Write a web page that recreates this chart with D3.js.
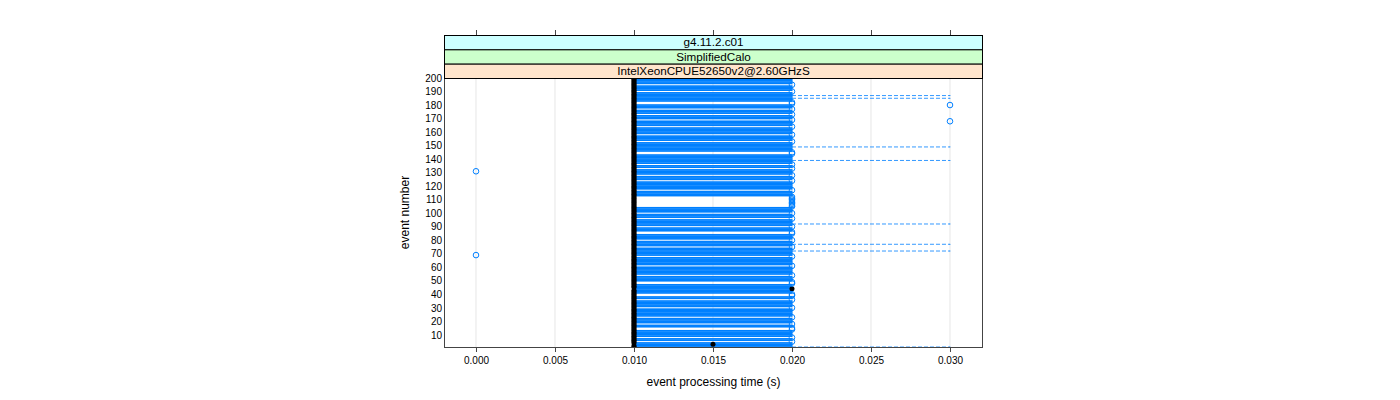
<!DOCTYPE html>
<html>
<head>
<meta charset="utf-8">
<script src="https://cdn.jsdelivr.net/npm/d3@7"></script>
<style>
  html, body { margin: 0; padding: 0; background: #fff; }
  svg { display: block; font-family: "Liberation Sans", Arial, sans-serif; }
</style>
</head>
<body>
<div id="chart"></div>
<script>
/* --- data ------------------------------------------------------------------ */
const stripLabels = ["g4.11.2.c01", "SimplifiedCalo", "IntelXeonCPUE52650v2@2.60GHzS"];
const stripColors = ["#ccffff", "#ccffcc", "#ffe5cc"];

const eventNumbers = d3.range(1, 201);           // y categories 1..200
const hingeLow  = 0.010;                          // lower hinge for most events
const hingeHigh = 0.020;                          // upper hinge for most events

// events where every repetition took 0.010 s (box collapses, 0.020 is an outlier)
const flatEvents = [5, 8, 14, 15, 18, 23, 30, 36, 39, 40, 48, 49, 54, 61, 68, 75, 80, 85,
  86, 90, 96, 100, 105, 106, 107, 108, 109, 110, 111, 112, 117, 124, 128, 133, 136,
  144, 145, 153, 158, 164, 169, 173, 177, 181, 182, 190, 195];
// events whose upper whisker reaches 0.030 s
const longWhiskerEvents = [1, 72, 77, 92, 139, 149, 185, 187];
// other medians
const medianOverrides = [{ event: 3, median: 0.015 }, { event: 44, median: 0.020 }];
// extra outliers
const extraOutliers = [
  { event: 69, time: 0.000 }, { event: 131, time: 0.000 },
  { event: 168, time: 0.030 }, { event: 180, time: 0.030 }
];
const xTicks = [0.000, 0.005, 0.010, 0.015, 0.020, 0.025, 0.030];
const yTicks = [10, 20, 30, 40, 50, 60, 70, 80, 90, 100, 110, 120, 130, 140, 150, 160, 170, 180, 190, 200];

/* --- per-event stats ------------------------------------------------------- */
const flatSet = new Set(flatEvents);
const whiskSet = new Set(longWhiskerEvents);
const medMap = new Map(medianOverrides.map(d => [d.event, d.median]));

const stats = eventNumbers.map(e => {
  const flat = flatSet.has(e);
  return {
    event: e,
    q1: hingeLow,
    q3: flat ? hingeLow : hingeHigh,
    med: medMap.has(e) ? medMap.get(e) : hingeLow,
    hi: whiskSet.has(e) ? 0.030 : (flat ? hingeLow : hingeHigh),
    out: flat ? [hingeHigh] : []
  };
});
extraOutliers.forEach(o => stats[o.event - 1].out.push(o.time));

/* --- layout ---------------------------------------------------------------- */
const W = 1400, H = 400;
const panel = { left: 444, right: 983, top: 78, bottom: 347 };
const stripTop = 35, stripH = (panel.top - stripTop) / stripLabels.length;

const x = d3.scaleLinear().domain([-0.002025, 0.032089]).range([panel.left, panel.right]);
const y = d3.scaleLinear().domain([1, 200]).range([panel.bottom, panel.top]);
const rowH = Math.abs(y(2) - y(1));
const boxH = rowH * 0.5;

const svg = d3.select("#chart").append("svg")
  .attr("width", W)
  .attr("height", H);

svg.append("defs").append("clipPath").attr("id", "pclip")
  .append("rect")
    .attr("x", panel.left).attr("y", panel.top)
    .attr("width", panel.right - panel.left).attr("height", panel.bottom - panel.top);

/* --- grid ------------------------------------------------------------------ */
const plot = svg.append("g").attr("clip-path", "url(#pclip)");
plot.selectAll("line.grid")
  .data(xTicks)
  .join("line")
    .attr("class", "grid")
    .attr("x1", d => x(d)).attr("x2", d => x(d))
    .attr("y1", panel.top).attr("y2", panel.bottom)
    .attr("stroke", "#e6e6e6")
    .attr("stroke-width", 1);

/* --- whiskers -------------------------------------------------------------- */
const blue = "#0080ff";
const whisk = stats.filter(d => d.hi > d.q3);
plot.selectAll("line.whisk")
  .data(whisk)
  .join("line")
    .attr("class", "whisk")
    .attr("x1", d => x(d.q3)).attr("x2", d => x(d.hi))
    .attr("y1", d => y(d.event)).attr("y2", d => y(d.event))
    .attr("stroke", blue)
    .attr("stroke-opacity", 0.8)
    .attr("stroke-width", 1)
    .attr("stroke-dasharray", "4,2");
plot.selectAll("line.cap")
  .data(whisk)
  .join("line")
    .attr("class", "cap")
    .attr("x1", d => x(d.hi)).attr("x2", d => x(d.hi))
    .attr("y1", d => y(d.event) - boxH / 2).attr("y2", d => y(d.event) + boxH / 2)
    .attr("stroke", blue)
    .attr("stroke-width", 1);

/* --- boxes ----------------------------------------------------------------- */
plot.selectAll("rect.box")
  .data(stats)
  .join("rect")
    .attr("class", "box")
    .attr("x", d => x(d.q1))
    .attr("width", d => x(d.q3) - x(d.q1))
    .attr("y", d => y(d.event) - boxH / 2)
    .attr("height", boxH)
    .attr("fill", "none")
    .attr("stroke", blue)
    .attr("stroke-width", 1);

/* --- medians --------------------------------------------------------------- */
plot.selectAll("circle.med")
  .data(stats)
  .join("circle")
    .attr("class", "med")
    .attr("cx", d => x(d.med))
    .attr("cy", d => y(d.event))
    .attr("r", 2.5)
    .attr("fill", "#000");

/* --- outliers -------------------------------------------------------------- */
const outs = stats.flatMap(d => d.out.map(t => ({ event: d.event, time: t })));
plot.selectAll("circle.out")
  .data(outs)
  .join("circle")
    .attr("class", "out")
    .attr("cx", d => x(d.time))
    .attr("cy", d => y(d.event))
    .attr("r", 2.8)
    .attr("fill", "none")
    .attr("stroke", blue)
    .attr("stroke-width", 1);

/* --- panel border ---------------------------------------------------------- */
svg.append("rect")
  .attr("x", panel.left + 0.5).attr("y", panel.top + 0.5)
  .attr("width", panel.right - panel.left - 1).attr("height", panel.bottom - panel.top)
  .attr("fill", "none")
  .attr("stroke", "#444");

/* --- strips ---------------------------------------------------------------- */
stripLabels.forEach((lab, i) => {
  const sy = stripTop + i * stripH;
  svg.append("rect")
    .attr("x", panel.left + 0.5).attr("y", sy + 0.5)
    .attr("width", panel.right - panel.left - 1).attr("height", stripH)
    .attr("fill", stripColors[i])
    .attr("stroke", "#000");
  svg.append("text")
    .attr("x", (panel.left + panel.right) / 2)
    .attr("y", sy + stripH / 2 + 4)
    .attr("text-anchor", "middle")
    .style("font-size", "11.7px")
    .text(lab);
});

/* --- axes ------------------------------------------------------------------ */
const fmt = d3.format(".3f");
svg.append("g")
  .attr("transform", `translate(0,${panel.bottom})`)
  .call(d3.axisBottom(x).tickValues(xTicks).tickFormat(fmt).tickSize(5).tickPadding(5))
  .call(g => g.select(".domain").remove())
  .call(g => g.selectAll("line").attr("stroke", "#444"))
  .call(g => g.selectAll("text").style("font-size", "10px").attr("fill", "#000").attr("font-family", null));

svg.append("g")
  .attr("transform", `translate(0,${stripTop})`)
  .call(d3.axisTop(x).tickValues(xTicks).tickFormat("").tickSize(5))
  .call(g => g.select(".domain").remove())
  .call(g => g.selectAll("line").attr("stroke", "#444"));

svg.append("g")
  .attr("transform", `translate(${panel.left},0)`)
  .call(d3.axisLeft(y).tickValues(yTicks).tickFormat(d3.format("d")).tickSize(0).tickPadding(2))
  .call(g => g.select(".domain").remove())
  .call(g => g.selectAll("text").style("font-size", "10px").attr("fill", "#000").attr("font-family", null));

/* --- axis titles ----------------------------------------------------------- */
svg.append("text")
  .attr("x", (panel.left + panel.right) / 2)
  .attr("y", 386)
  .attr("text-anchor", "middle")
  .style("font-size", "12px")
  .text("event processing time (s)");

svg.append("text")
  .attr("transform", `translate(409,${(panel.top + panel.bottom) / 2}) rotate(-90)`)
  .attr("text-anchor", "middle")
  .style("font-size", "12px")
  .text("event number");
</script>
</body>
</html>
